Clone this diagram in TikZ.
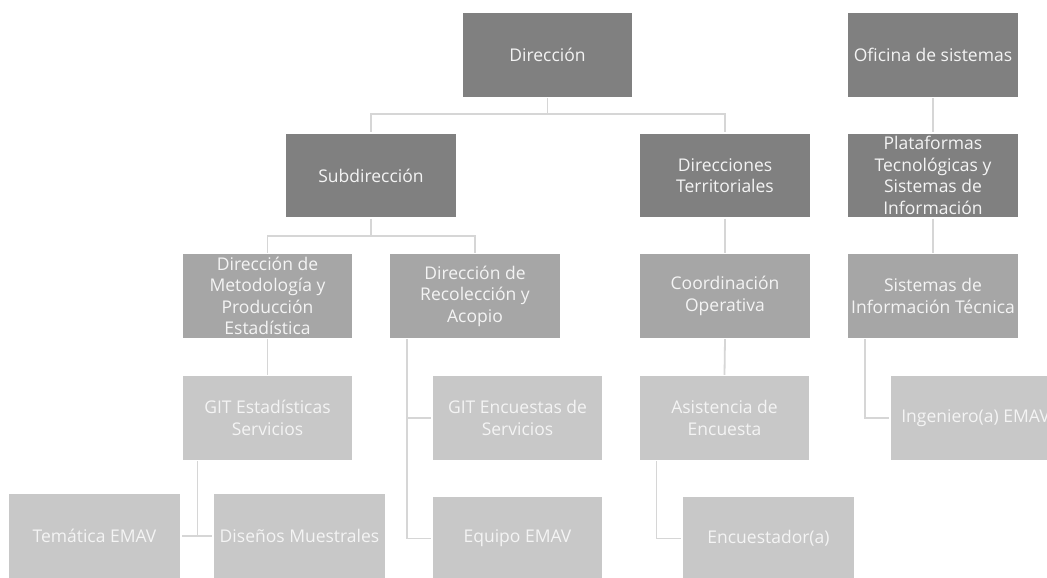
\documentclass[tikz,border=0pt]{standalone}
\usepackage{fontspec}
\setmainfont{Open Sans}
\usetikzlibrary{calc}
\definecolor{dk}{HTML}{808080}
\definecolor{md}{HTML}{A6A6A6}
\definecolor{lt}{HTML}{C8C8C8}
\definecolor{ln}{HTML}{D6D6D6}
\definecolor{tx}{HTML}{F4F4F4}
\begin{document}
\begin{tikzpicture}[x=1pt,y=-1pt,
  box/.style={draw=white,line width=1.2pt,text=tx,align=center,inner sep=0pt,
    minimum width=171pt,minimum height=85pt,
    font=\fontsize{17.5}{21.5}\selectfont},
  bdk/.style={box,fill=dk},
  bmd/.style={box,fill=md},
  blt/.style={box,fill=lt},
  conn/.style={draw=ln,line width=1.8pt}]
\useasboundingbox (0,0) rectangle (1047,578);
\fill[white] (0,0) rectangle (1047,578);
% level 1
\node[bdk] (dir) at (547.5,55) {Dirección};
\node[bdk] (ofi) at (933,55) {Oficina de sistemas};
% level 2
\node[bdk] (sub) at (371,175.5) {Subdirección};
\node[bdk] (dterr) at (725,175.5) {Direcciones\\Territoriales};
\node[bdk] (plat) at (933,175.5) {Plataformas\\Tecnológicas y\\Sistemas de\\Información};
% level 3
\node[bmd] (met) at (267.5,296) {Dirección de\\Metodología y\\Producción\\Estadística};
\node[bmd] (rec) at (475,296) {Dirección de\\Recolección y\\Acopio};
\node[bmd] (coord) at (725,296) {Coordinación\\Operativa};
\node[bmd] (sit) at (933,296) {Sistemas de\\Información Técnica};
% level 4
\node[blt] (gite) at (267.5,418) {GIT Estadísticas\\Servicios};
\node[blt] (gitenc) at (517.5,418) {GIT Encuestas de\\Servicios};
\node[blt] (asis) at (724.5,418) {Asistencia de\\Encuesta};
\node[blt] (ing) at (975.5,418) {Ingeniero(a) EMAV};
% level 5
\node[blt,minimum width=173pt] (tem) at (94.5,536) {Temática EMAV};
\node[blt,minimum width=173pt] (dis) at (299.5,536) {Diseños Muestrales};
\node[blt] (equipo) at (517.5,538.5) {Equipo EMAV};
\node[blt,minimum width=173pt] (enc) at (768.5,538.5) {Encuestador(a)};
% connectors
\begin{scope}[conn]
\draw (dir.south) -- (dir.south |- 0,114) -| (sub.north);
\draw (dir.south |- 0,114) -| (dterr.north);
\draw (sub.south) -- (sub.south |- 0,236) -| (met.north);
\draw (sub.south |- 0,236) -| (rec.north);
\draw (ofi.south) -- (plat.north);
\draw (plat.south) -- (sit.north);
\draw (dterr.south) -- (coord.north);
\draw (coord.south) -- (asis.north);
\draw (met.south) -- (gite.north);
\coordinate (g1) at ($(gite.south west)+(16,0)$);
\draw (g1) |- (tem.east);
\draw (g1) |- (dis.west);
\coordinate (r1) at ($(rec.south west)+(18,0)$);
\draw (r1) |- (gitenc.west);
\draw (r1) |- (equipo.west);
\coordinate (a1) at ($(asis.south west)+(18,0)$);
\draw (a1) |- (enc.west);
\coordinate (s1) at ($(sit.south west)+(18,0)$);
\draw (s1) |- (ing.west);
\end{scope}
\end{tikzpicture}
\end{document}
